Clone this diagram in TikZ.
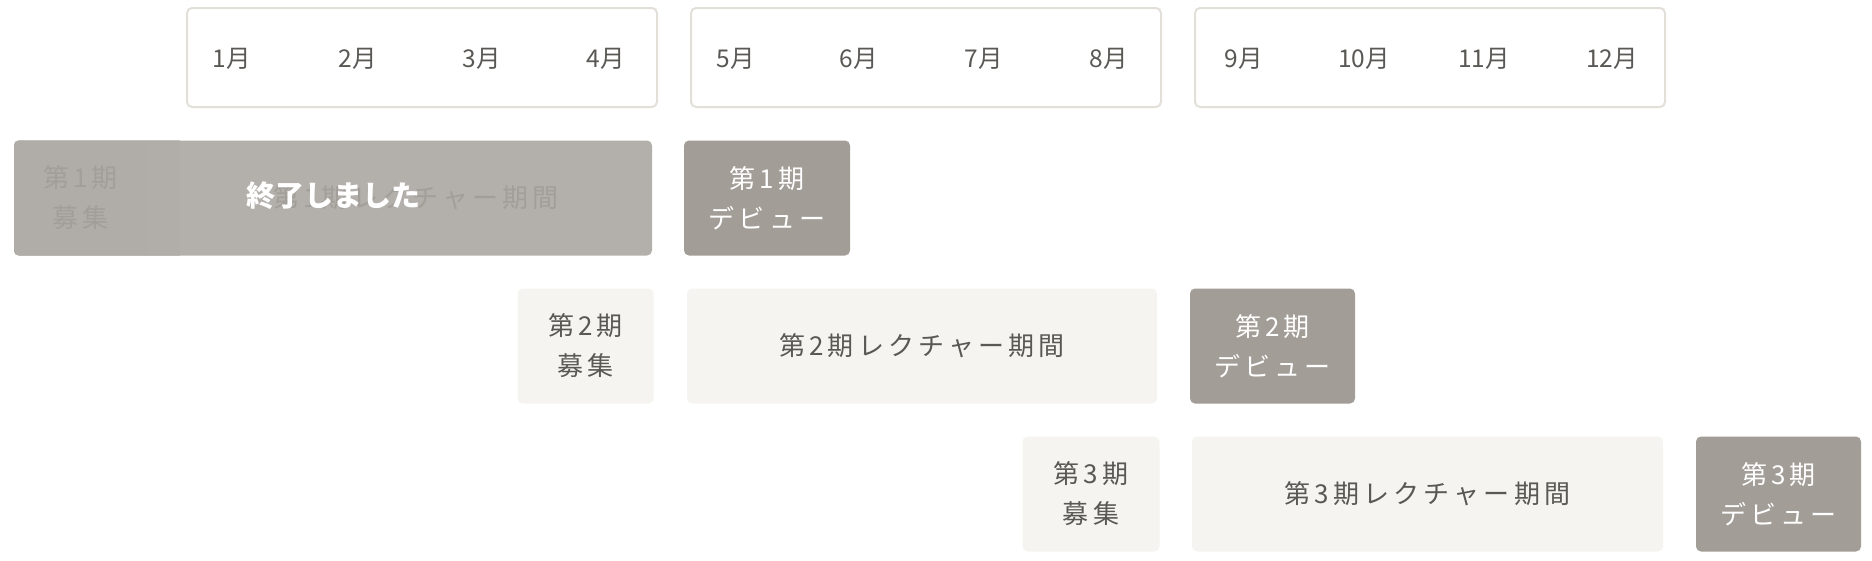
\documentclass[tikz,border=0pt]{standalone}
\usepackage{fontspec}
\setmainfont{Noto Sans CJK JP}
\definecolor{lightc}{HTML}{F5F4F0}
\definecolor{darkc}{HTML}{A29D97}
\definecolor{overc}{HTML}{B3AFAA}
\definecolor{recc}{HTML}{B0ACA7}
\definecolor{gapc}{HTML}{B1ADA8}
\definecolor{borderc}{HTML}{E3E0DA}
\definecolor{textc}{HTML}{5A5855}
\definecolor{fadec}{HTML}{A29E99}
\tikzset{
  box/.style={rectangle, rounded corners=5pt, inner sep=0pt, align=center,
    minimum height=115pt,
    font=\fontsize{26}{40}\selectfont\addfontfeatures{LetterSpace=16}},
  lightbox/.style={box, fill=lightc, text=textc},
  darkbox/.style={box, fill=darkc, text=white},
  fadebox/.style={box, text=fadec},
  monthbox/.style={rectangle, rounded corners=5pt, draw=borderc, line width=2pt,
    fill=white, minimum width=470pt, minimum height=99pt, inner sep=0pt},
  month/.style={text=textc, inner sep=0pt, font=\fontsize{24.5}{28}\selectfont}
}
\begin{document}
\begin{tikzpicture}[x=1pt,y=-1pt]
\useasboundingbox (0,0) rectangle (1872,560);
% month boxes
\node[monthbox] (mA) at (422,57.5) {};
\node[monthbox] (mB) at (926,57.5) {};
\node[monthbox] (mC) at (1430,57.5) {};
\node[month] (m1) at (232,59) {1月};
\node[month] (m2) at (358,59) {2月};
\node[month] (m3) at (482,59) {3月};
\node[month] (m4) at (606,59) {4月};
\node[month] (m5) at (736,59) {5月};
\node[month] (m6) at (859,59) {6月};
\node[month] (m7) at (984,59) {7月};
\node[month] (m8) at (1109,59) {8月};
\node[month] (m9) at (1244,59) {9月};
\node[month] (m10) at (1364,59) {10月};
\node[month] (m11) at (1484,59) {11月};
\node[month] (m12) at (1612,59) {12月};
% row 1 (finished)
\node[box, fill=overc, minimum width=638pt] (over) at (333,198) {};
\node[fadebox, minimum width=133pt] (r1rec) at (80.5,198) {};
\node[rectangle, minimum width=33pt, minimum height=115pt, inner sep=0pt] (gap) at (163.5,198) {};
\begin{scope}
  \clip[rounded corners=5pt] (over.north west) rectangle (over.south east);
  \fill[recc] (r1rec.north west) rectangle (r1rec.south east);
  \fill[gapc] (gap.north west) rectangle (gap.south east);
\end{scope}
\node[fadebox, minimum width=133pt] (r1rectext) at (80.5,198) {第1期\\募集};
\node[fadebox, minimum width=472pt] (r1lec) at (416,198) {第1期レクチャー期間};
\node[text=white, inner sep=0pt, font=\fontsize{29}{34}\selectfont\bfseries] (done) at (333,196) {終了しました};
\node[darkbox, minimum width=166pt] (r1deb) at (767,198) {第1期\\デビュー};
% row 2
\node[lightbox, minimum width=136pt] (r2rec) at (585.5,346) {第2期\\募集};
\node[lightbox, minimum width=470pt] (r2lec) at (922,346) {第2期レクチャー期間};
\node[darkbox, minimum width=165pt] (r2deb) at (1272.5,346) {第2期\\デビュー};
% row 3
\node[lightbox, minimum width=137pt] (r3rec) at (1091,494) {第3期\\募集};
\node[lightbox, minimum width=471pt] (r3lec) at (1427.5,494) {第3期レクチャー期間};
\node[darkbox, minimum width=165pt] (r3deb) at (1778.5,494) {第3期\\デビュー};
\end{tikzpicture}
\end{document}
